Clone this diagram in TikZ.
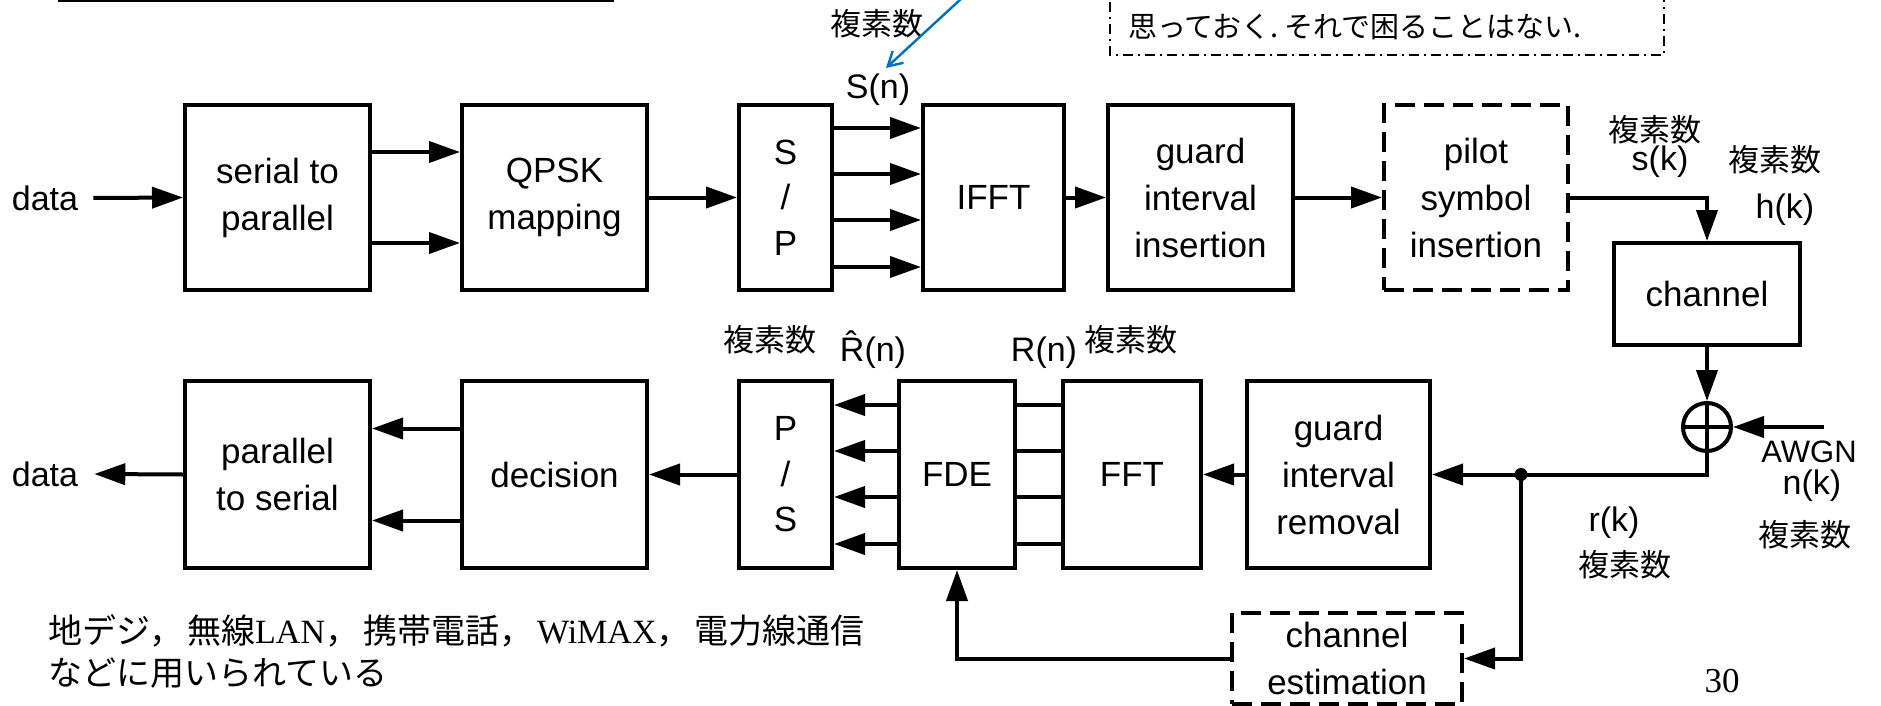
\documentclass[tikz,border=0pt]{standalone}
\usepackage{fontspec}
\setmainfont{Liberation Sans}
\newfontfamily\jp{Noto Sans CJK JP}
\newfontfamily\tms{Liberation Serif}
\usetikzlibrary{arrows.meta}
\definecolor{bluearrow}{RGB}{0,112,192}
\begin{document}
\begin{tikzpicture}[x=1pt,y=-1pt,
  box/.style={draw,line width=4pt,inner sep=0pt,align=center,font=\fontsize{35}{47}\selectfont},
  dbox/.style={box,dash pattern=on 20pt off 9pt},
  conn/.style={line width=4pt},
  arr/.style={conn,-{Triangle[length=31pt,width=21pt]}},
  lbl/.style={inner sep=0pt,font=\fontsize{34}{40}\selectfont},
  jlbl/.style={inner sep=0pt,font=\jp\fontsize{31}{36}\selectfont},
  notebox/.style={line width=1.8pt,dash pattern=on 10pt off 5pt on 2pt off 5pt},
  bluearr/.style={draw=bluearrow,line width=2.4pt,-{Straight Barb[length=14pt,width=16pt,line width=2.4pt]}}
]
\useasboundingbox (0,0) rectangle (1881,706);

% ---- top fragments ----
\coordinate (ulA) at (58,1);
\coordinate (ulB) at (614,1);
\draw[line width=3pt] (ulA) -- (ulB);
\coordinate (nbA) at (1110,-20);
\coordinate (nbB) at (1110,55);
\coordinate (nbC) at (1664,55);
\coordinate (nbD) at (1664,-20);
\draw[notebox] (nbA) -- (nbB) -- (nbC) -- (nbD);
\node[inner sep=0pt,font=\jp\fontsize{29}{32}\selectfont] (note) at (1355,27) {思っておく.\hspace{6pt}それで困ることはない.};

% ---- upper row ----
\node[box,minimum width=185pt,minimum height=185pt] (s2p) at (277.5,197.5) {serial to\\parallel};
\node[box,minimum width=185pt,minimum height=185pt] (qpsk) at (554.5,197.5) {QPSK\\mapping};
\node[box,minimum width=93pt,minimum height=185pt,font=\fontsize{35}{45.5}\selectfont] (sp) at (785.5,197.5) {S\\/\\P};
\node[box,minimum width=141pt,minimum height=185pt] (ifft) at (993.5,197.5) {IFFT};
\node[box,minimum width=185pt,minimum height=185pt] (gii) at (1200.5,197.5) {guard\\interval\\insertion};
\node[dbox,minimum width=184pt,minimum height=185pt] (pilot) at (1476,197.5) {pilot\\symbol\\insertion};
\node[box,minimum width=186pt,minimum height=102pt] (channel) at (1707,294) {channel};
\node[circle,draw,line width=4pt,minimum size=48pt,inner sep=0pt] (sum) at (1707,427) {};
\draw[conn] (sum.north) -- (sum.south);
\draw[conn] (sum.west) -- (sum.east);

% ---- lower row ----
\node[box,minimum width=185pt,minimum height=187pt] (p2s) at (277.5,474.5) {parallel\\to serial};
\node[box,minimum width=185pt,minimum height=187pt] (dec) at (554.5,474.5) {decision};
\node[box,minimum width=93pt,minimum height=187pt,font=\fontsize{35}{45.5}\selectfont] (ps) at (785.5,474.5) {P\\/\\S};
\node[box,minimum width=116pt,minimum height=187pt] (fde) at (957,474.5) {FDE};
\node[box,minimum width=138pt,minimum height=187pt] (fft) at (1132,474.5) {FFT};
\node[box,minimum width=183pt,minimum height=187pt] (gir) at (1338.5,474.5) {guard\\interval\\removal};
\node[dbox,minimum width=230pt,minimum height=91pt] (chest) at (1347,658.5) {channel\\estimation};

% ---- labels ----
\node[lbl] (din) at (45,198) {data};
\node[lbl] (dout) at (45,474) {data};
\node[jlbl] (cTop) at (877,24) {複素数};
\node[lbl] (Sn) at (878,90) {S(n)};
\node[jlbl] (cs) at (1655,130) {複素数};
\node[lbl] (sk) at (1660,162) {s(k)};
\node[jlbl] (ch) at (1775,160) {複素数};
\node[lbl] (hk) at (1785,210) {h(k)};
\node[jlbl] (cRh) at (770,340) {複素数};
\node[lbl,anchor=base] (Rh) at (873,361) {\^{R}(n)};
\node[lbl,anchor=base] (Rn) at (1044,361) {R(n)};
\node[jlbl] (cR) at (1131,340) {複素数};
\node[inner sep=0pt,font=\fontsize{31}{36}\selectfont] (awgn) at (1809,452) {AWGN};
\node[lbl] (nk) at (1812,486) {n(k)};
\node[jlbl] (cn) at (1805,535) {複素数};
\node[lbl] (rk) at (1614,523) {r(k)};
\node[jlbl] (cr) at (1625,565) {複素数};
\node[inner sep=0pt,font=\tms\fontsize{35}{40}\selectfont] (pg) at (1722,681) {30};
\node[inner sep=0pt,anchor=west,font=\jp\fontsize{34}{40}\selectfont] (uses1) at (48,631)
  {地デジ，\hspace{4pt}無線{\tms LAN}，\hspace{4pt}携帯電話，\hspace{4pt}{\tms WiMAX}，\hspace{4pt}電力線通信};
\node[inner sep=0pt,anchor=west,font=\jp\fontsize{34}{40}\selectfont] (uses2) at (48,673) {などに用いられている};

% ---- blue arrow ----
\coordinate (bTop) at (962,-2);
\coordinate (bTip) at (886,68);
\draw[bluearr] (bTop) -- (bTip);

% ---- upper connectors ----
\draw[arr] ([xshift=15pt]din.east) -- (s2p.west);
\draw[arr] ([yshift=45.5pt]s2p.east) -- ([yshift=45.5pt]qpsk.west);
\draw[arr] ([yshift=-45.5pt]s2p.east) -- ([yshift=-45.5pt]qpsk.west);
\draw[arr] (qpsk.east) -- (sp.west);
\foreach \d in {69.5,23.5,-22.5,-69.5}
  \draw[arr] ([yshift=\d pt]sp.east) -- ([yshift=\d pt]ifft.west);
\draw[arr] (ifft.east) -- (gii.west);
\draw[arr] (gii.east) -- (pilot.west);
\draw[arr] (pilot.east) -| (channel.north);
\draw[arr] (channel.south) -- (sum.north);
\coordinate (awgnIn) at (1824,427);
\draw[arr] (awgnIn) -- (sum.east);

% ---- lower connectors ----
\coordinate (junc) at (1521,474.5);
\draw[arr] (sum.south) |- (gir.east);
\fill (junc) circle (6.5pt);
\draw[arr] (junc) |- (chest.east);
\draw[arr] (chest.west) -| (fde.south);
\draw[arr] (gir.west) -- (fft.east);
\foreach \d in {69.5,23.5,-22.5,-69.5}
  \draw[conn] ([yshift=\d pt]fft.west) -- ([yshift=\d pt]fde.east);
\foreach \d in {69.5,23.5,-22.5,-69.5}
  \draw[arr] ([yshift=\d pt]fde.west) -- ([yshift=\d pt]ps.east);
\draw[arr] (ps.west) -- (dec.east);
\draw[arr] ([yshift=46pt]dec.west) -- ([yshift=46pt]p2s.east);
\draw[arr] ([yshift=-46pt]dec.west) -- ([yshift=-46pt]p2s.east);
\draw[arr] (p2s.west) -- ([xshift=16pt]dout.east);
\end{tikzpicture}
\end{document}
